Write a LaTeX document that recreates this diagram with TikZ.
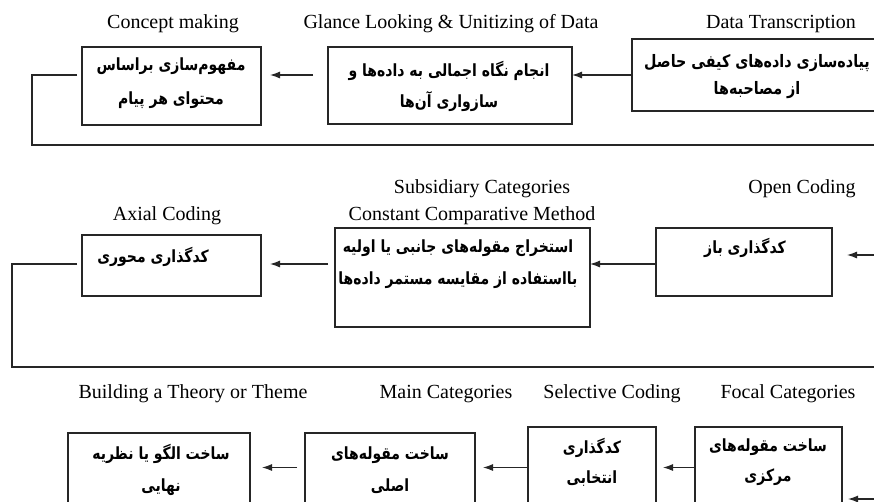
\documentclass[tikz,border=0pt]{standalone}
\usepackage{graphicx}
\usepackage{fontspec}
\setmainfont{Liberation Serif}
\newfontfamily\fa[Script=Arabic]{DejaVu Sans}
\TeXXeTstate=1
\usetikzlibrary{arrows.meta}
\newcommand{\fl}[1]{\scalebox{1}[1.2]{\beginR #1\endR}}
\begin{document}
\begin{tikzpicture}[x=1pt,y=-1pt,
  box/.style={draw=black!85,line width=1.2pt,inner sep=0pt,outer sep=0pt},
  en/.style={font=\fontsize{20}{22}\selectfont,anchor=base,inner sep=0pt},
  fa/.style={font=\fa\bfseries\fontsize{14}{31}\selectfont,align=center,inner sep=0pt},
  ln/.style={draw=black!85,line width=1.2pt},
  arr/.style={ln,-{Latex[length=10pt,width=7pt]}}]
\clip (0,0) rectangle (874,501);
\fill[white] (0,0) rectangle (874,501);
% row 1
\node[en] (t1) at (173,28) {Concept making};
\node[en] (t2) at (451,28) {Glance Looking \& Unitizing of Data};
\node[en] (t3) at (781,28) {Data Transcription};
\node[box,minimum width=179pt,minimum height=78pt] (b1) at (171.5,86) {};
\node[box,minimum width=244pt,minimum height=77pt] (b2) at (450,85.5) {};
\node[box,minimum width=268pt,minimum height=72pt] (b3) at (766,75) {};
\node[fa,font=\fa\bfseries\fontsize{14}{34}\selectfont] (p1) at (171,83) {\fl{مفهوم‌سازی براساس}\\\fl{محتوای هر پیام}};
\node[fa] (p2) at (449,86) {\fl{انجام نگاه اجمالی به داده‌ها و}\\\fl{سازواری آن‌ها}};
\node[fa,font=\fa\bfseries\fontsize{14.3}{27}\selectfont] (p3) at (757,76.5) {\fl{پیاده‌سازی داده‌های کیفی حاصل}\\\fl{از مصاحبه‌ها}};
\coordinate (r1) at (0,75);
\coordinate (l1) at (32,145);
\coordinate (e1) at (880,145);
\draw[arr] (b3.west|-r1) -- (b2.east|-r1);
\draw[arr,shorten <=15pt,shorten >=9pt] (b2.west|-r1) -- (b1.east|-r1);
\draw[ln,shorten <=5pt] (b1.west|-r1) -| (l1) -- (e1);
% row 2
\node[en] (t4) at (482,193) {Subsidiary Categories};
\node[en] (t5) at (472,220) {Constant Comparative Method};
\node[en] (t6) at (802,193) {Open Coding};
\node[en] (t7) at (167,220) {Axial Coding};
\node[box,minimum width=179pt,minimum height=61pt] (b4) at (171.5,265.5) {};
\node[box,minimum width=255pt,minimum height=99pt] (b5) at (462.5,277.5) {};
\node[box,minimum width=176pt,minimum height=68pt] (b6) at (744,262) {};
\node[fa] (p4) at (153,257) {\fl{کدگذاری محوری}};
\node[fa,font=\fa\bfseries\fontsize{14}{32}\selectfont] (p5) at (458,264) {\fl{استخراج مقوله‌های جانبی یا اولیه}\\\fl{بااستفاده از مقایسه مستمر داده‌ها}};
\node[fa] (p6) at (745,248) {\fl{کدگذاری باز}};
\coordinate (r2) at (0,264);
\coordinate (in2) at (880,255);
\coordinate (l2) at (12,367);
\coordinate (e2) at (880,367);
\draw[arr,shorten >=15pt] (in2) -- (b6.east|-in2);
\draw[arr] (b6.west|-r2) -- (b5.east|-r2);
\draw[arr,shorten <=7pt,shorten >=9pt] (b5.west|-r2) -- (b4.east|-r2);
\draw[ln,shorten <=5pt] (b4.west|-r2) -| (l2) -- (e2);
% row 3
\node[en] (t8) at (193,398) {Building a Theory or Theme};
\node[en] (t9) at (446,398) {Main Categories};
\node[en] (t10) at (612,398) {Selective Coding};
\node[en] (t11) at (788,398) {Focal Categories};
\node[box,minimum width=182pt,minimum height=87pt] (b7) at (159,476.5) {};
\node[box,minimum width=170pt,minimum height=87pt] (b8) at (390,476.5) {};
\node[box,minimum width=128pt,minimum height=93pt] (b9) at (592,473.5) {};
\node[box,minimum width=147pt,minimum height=93pt] (b10) at (768.5,473.5) {};
\node[fa,font=\fa\bfseries\fontsize{14}{32}\selectfont] (p7) at (161,470) {\fl{ساخت الگو یا نظریه}\\\fl{نهایی}};
\node[fa,font=\fa\bfseries\fontsize{14}{32}\selectfont] (p8) at (390,470) {\fl{ساخت مقوله‌های}\\\fl{اصلی}};
\node[fa,font=\fa\bfseries\fontsize{14}{30}\selectfont] (p9) at (592,462) {\fl{کدگذاری}\\\fl{انتخابی}};
\node[fa,font=\fa\bfseries\fontsize{14}{30}\selectfont] (p10) at (768,462) {\fl{ساخت مقوله‌های}\\\fl{مرکزی}};
\coordinate (r3) at (0,467.5);
\coordinate (in3) at (880,499);
\draw[arr,shorten >=6pt] (in3) -- (b10.east|-in3);
\draw[arr,shorten >=7pt] (b10.west|-r3) -- (b9.east|-r3);
\draw[arr,shorten >=8pt] (b9.west|-r3) -- (b8.east|-r3);
\draw[arr,shorten <=8pt,shorten >=12pt] (b8.west|-r3) -- (b7.east|-r3);
\end{tikzpicture}
\end{document}
